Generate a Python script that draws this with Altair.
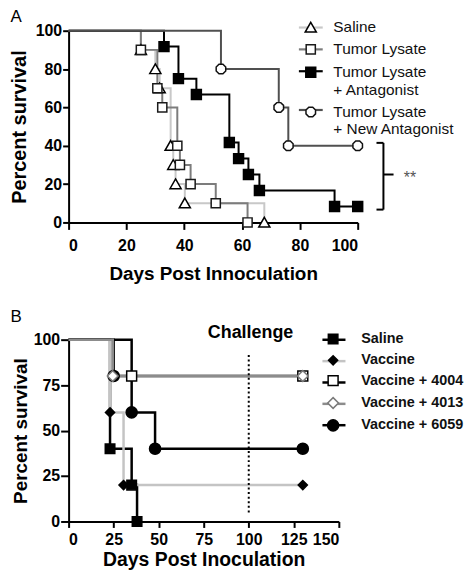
import math
import altair as alt
import pandas as pd

FONT = "Liberation Sans"

# ---------------- Panel A data ----------------
A_SERIES = ["Saline", "Tumor Lysate", "Tumor Lysate + Antagonist", "Tumor Lysate + New Antagonist"]
a_saline_days = [0, 25, 30, 31.5, 35.3, 36.2, 37, 40.2, 67.7]
a_saline_surv = [100, 90, 80, 70, 40, 30, 20, 10, 0]
a_lysate_days = [0, 25, 30.7, 32.4, 37.6, 38.5, 42.2, 50.9, 61.9]
a_lysate_surv = [100, 90, 70, 60, 40, 30, 20, 10, 0]
a_antag_days = [0, 33, 38, 44.2, 55.6, 58.8, 62.2, 66, 92, 100]
a_antag_surv = [100, 91.7, 75, 66.7, 41.7, 33.3, 25, 16.7, 8.3, 8.3]
a_new_days = [0, 52.7, 72.7, 76, 100]
a_new_surv = [100, 80, 60, 40, 40]
A_X_TICKS = [0, 20, 40, 60, 80, 100]
A_Y_TICKS = [0, 20, 40, 60, 80, 100]

# significance bracket (data units)
A_BR_X1 = [106.5, 106.5, 108.9, 108.9]
A_BR_X2 = [108.9, 108.9, 108.9, 112.4]
A_BR_Y1 = [41.5, 6.7, 41.5, 25]
A_BR_Y2 = [41.5, 6.7, 6.7, 25]
A_STAR_X = [118.1]
A_STAR_Y = [25]
A_STAR_TEXT = ["**"]

# ---------------- Panel B data ----------------
B_SERIES = ["Saline", "Vaccine", "Vaccine + 4004", "Vaccine + 4013", "Vaccine + 6059"]
b_saline_days = [0, 23, 35, 38]
b_saline_surv = [100, 40, 20, 0]
b_vacc_days = [0, 23, 30.5, 130]
b_vacc_surv = [100, 60, 20, 20]
b_6059_days = [0, 25, 35, 48, 130]
b_6059_surv = [100, 80, 60, 40, 40]
b_4004_days = [0, 35, 130]
b_4004_surv = [100, 80, 80]
b_4013_days = [0, 24.5, 130]
b_4013_surv = [100, 80, 80]
B_X_TICKS = [0, 25, 50, 75, 100, 125, 150]
B_Y_TICKS = [0, 25, 50, 75, 100]

B_CHALLENGE_X = [101]
B_CHALLENGE_Y = [100]
B_CHALLENGE_TEXT = ["Challenge"]
B_DOT_X = [100]
B_DOT_Y1 = [5]
B_DOT_Y2 = [93]


# ---------------- styles ----------------
def poly(r, n, rot=0.0):
    pts = []
    for k in range(n):
        a = rot + 2 * math.pi * k / n
        pts.append(f"{r * math.cos(a):.3f},{r * math.sin(a):.3f}")
    return "M" + "L".join(pts) + "Z"


A_LINE_COLORS = ["#c8c8c8", "#7c7c7c", "#000000", "#505050"]
A_MARK_FILLS = ["#ffffff", "#ffffff", "#000000", "#ffffff"]
A_MARK_STROKES = ["#000000", "#1a1a1a", "#000000", "#111111"]
A_SHAPES = [
    "M0,-1.3L1.4,1.15L-1.4,1.15Z",
    "M-1.15,-1.15H1.15V1.15H-1.15Z",
    "M-1.25,-1.25H1.25V1.25H-1.25Z",
    poly(1.3, 8, math.pi / 8),
]
B_LINE_COLORS = ["#000000", "#c4c4c4", "#000000", "#8c8c8c", "#000000"]
B_MARK_FILLS = ["#000000", "#000000", "#ffffff", "#ffffff", "#000000"]
B_MARK_STROKES = ["#000000", "#000000", "#000000", "#7a7a7a", "#000000"]
B_SHAPES = [
    "M-1.2,-1.2H1.2V1.2H-1.2Z",
    "M0,-1.15L1.15,0L0,1.15L-1.15,0Z",
    "M-1.25,-1.25H1.25V1.25H-1.25Z",
    "M0,-1.35L1.35,0L0,1.35L-1.35,0Z",
    poly(1.4, 16),
]


def km_frame(names, days_list, surv_list):
    rows = []
    for name, days, surv in zip(names, days_list, surv_list):
        for i, (d, s) in enumerate(zip(days, surv)):
            rows.append({"series": name, "series_m": name, "t": d, "s": s, "start": i == 0})
    return pd.DataFrame(rows)


def axis(values, title, title_size, title_pad, label_pad, tick):
    return alt.Axis(
        values=values, title=title, format="d", grid=False,
        domainColor="black", domainWidth=2, tickColor="black", tickWidth=2, tickSize=tick,
        labelFont=FONT, labelFontSize=16, labelFontWeight="bold", labelColor="black",
        labelPadding=label_pad, titleFont=FONT, titleFontSize=title_size,
        titleFontWeight="bold", titleColor="black", titlePadding=title_pad,
    )


def legend(x, y, size, weight, rowpad, loff, expr, stroke_w, z, symbol=None):
    kw = dict(
        title=None, orient="none", legendX=x, legendY=y, symbolSize=64,
        symbolStrokeWidth=stroke_w, labelFont=FONT, labelFontSize=size,
        labelFontWeight=weight, labelColor="#111111",
        rowPadding=rowpad, labelOffset=loff, padding=0, labelLimit=400, zindex=z,
    )
    if expr:
        kw["labelExpr"] = expr
    if symbol:
        kw["symbolType"] = symbol
    return alt.Legend(**kw)


# ---------------- Panel A chart ----------------
a_df = km_frame(A_SERIES,
                [a_saline_days, a_lysate_days, a_antag_days, a_new_days],
                [a_saline_surv, a_lysate_surv, a_antag_surv, a_new_surv])
a_pts = a_df[~a_df["start"]]

ax = alt.X("t:Q", scale=alt.Scale(domain=[0, 100], nice=False, zero=False),
           axis=axis(A_X_TICKS, "Days Post Innoculation", 19, 11, 8, 7))
ay = alt.Y("s:Q", scale=alt.Scale(domain=[0, 100], nice=False, zero=False),
           axis=axis(A_Y_TICKS, "Percent survival", 20, 5.5, 1, 6))

a_expr = "split(replace(datum.label, ' + ', '|+ '), '|')"
a_expr_blank = "split(replace(replace(datum.label, ' + ', '|+ '), regexp('[^|]+', 'g'), ' '), '|')"
A_LEG_X, A_LEG_Y = 236, -11

a_lines = alt.Chart(a_df).mark_line(interpolate="step-after", strokeWidth=2).encode(
    x=ax, y=ay,
    color=alt.Color("series:N", scale=alt.Scale(domain=A_SERIES, range=A_LINE_COLORS),
                    legend=legend(A_LEG_X, A_LEG_Y, 15.6, "normal", 5, 15, a_expr_blank, 2.2, 0,
                                  "M-3,0H3")),
)
a_leg = legend(A_LEG_X, A_LEG_Y, 15.5, "normal", 5, 15, a_expr, 1.5, 1)
a_points = alt.Chart(a_pts).mark_point(opacity=1, strokeWidth=1.5, size=64).encode(
    x=ax, y=ay,
    shape=alt.Shape("series_m:N", scale=alt.Scale(domain=A_SERIES, range=A_SHAPES), legend=a_leg),
    fill=alt.Fill("series_m:N", scale=alt.Scale(domain=A_SERIES, range=A_MARK_FILLS), legend=a_leg),
    stroke=alt.Stroke("series_m:N", scale=alt.Scale(domain=A_SERIES, range=A_MARK_STROKES), legend=a_leg),
)
br_df = pd.DataFrame({"t": A_BR_X1, "t2": A_BR_X2, "s": A_BR_Y1, "s2": A_BR_Y2})
a_bracket = alt.Chart(br_df).mark_rule(color="black", strokeWidth=2).encode(
    x=ax, x2="t2:Q", y=ay, y2="s2:Q")
star_df = pd.DataFrame({"t": A_STAR_X, "s": A_STAR_Y, "label": A_STAR_TEXT})
a_star = alt.Chart(star_df).mark_text(font=FONT, fontSize=16, color="#555555",
                                       align="center", baseline="middle", dy=4).encode(
    x=ax, y=ay, text="label:N")

chart_a = alt.layer(a_lines, a_points, a_bracket, a_star).properties(
    width=291, height=193,
    title=alt.TitleParams("A", anchor="start", frame="group", dx=-58.5, dy=6, offset=0,
                          font=FONT, fontSize=17, fontWeight="normal", color="black"),
).resolve_legend(color="independent")

# ---------------- Panel B chart ----------------
B_ORDER = ["Saline", "Vaccine", "Vaccine + 6059", "Vaccine + 4004", "Vaccine + 4013"]
b_map = {
    "Saline": (b_saline_days, b_saline_surv),
    "Vaccine": (b_vacc_days, b_vacc_surv),
    "Vaccine + 6059": (b_6059_days, b_6059_surv),
    "Vaccine + 4004": (b_4004_days, b_4004_surv),
    "Vaccine + 4013": (b_4013_days, b_4013_surv),
}
b_df = km_frame(B_ORDER, [b_map[k][0] for k in B_ORDER], [b_map[k][1] for k in B_ORDER])
b_pts = b_df[~b_df["start"]]

bx = alt.X("t:Q", scale=alt.Scale(domain=[0, 150], nice=False, zero=False),
           axis=axis(B_X_TICKS, "Days Post Inoculation", 19.5, 3, 4, 6))
by = alt.Y("s:Q", scale=alt.Scale(domain=[0, 100], nice=False, zero=False),
           axis=axis(B_Y_TICKS, "Percent survival", 19, 3, 1, 8))

B_LEG_X, B_LEG_Y = 259, -8
b_lines = alt.Chart(b_df).mark_line(interpolate="step-after", strokeWidth=2.5).encode(
    x=bx, y=by,
    color=alt.Color("series:N", scale=alt.Scale(domain=B_SERIES, range=B_LINE_COLORS),
                    legend=legend(B_LEG_X, B_LEG_Y, 16.2, "bold", 4.5, 21, "' '", 2.5, 0,
                                  "M-2.9,0H2.9")),
)
b_leg = legend(B_LEG_X, B_LEG_Y, 14.5, "bold", 4.5, 21, None, 1.5, 1)
b_points = alt.Chart(b_pts).mark_point(opacity=1, strokeWidth=1.5, size=64).encode(
    x=bx, y=by,
    shape=alt.Shape("series_m:N", scale=alt.Scale(domain=B_SERIES, range=B_SHAPES), legend=b_leg),
    fill=alt.Fill("series_m:N", scale=alt.Scale(domain=B_SERIES, range=B_MARK_FILLS), legend=b_leg),
    stroke=alt.Stroke("series_m:N", scale=alt.Scale(domain=B_SERIES, range=B_MARK_STROKES), legend=b_leg),
)
dot_df = pd.DataFrame({"t": B_DOT_X, "s": B_DOT_Y1, "s2": B_DOT_Y2})
b_dot = alt.Chart(dot_df).mark_rule(color="black", strokeWidth=2, strokeDash=[2, 2.6]).encode(
    x=bx, y=by, y2="s2:Q")
ch_df = pd.DataFrame({"t": B_CHALLENGE_X, "s": B_CHALLENGE_Y, "label": B_CHALLENGE_TEXT})
b_text = alt.Chart(ch_df).mark_text(font=FONT, fontSize=18, fontWeight="bold", color="black",
                                     align="center", baseline="alphabetic", dy=-2).encode(
    x=bx, y=by, text="label:N")

chart_b = alt.layer(b_lines, b_dot, b_points, b_text).properties(
    width=272, height=183,
    title=alt.TitleParams("B", anchor="start", frame="group", dx=-58.5, dy=2, offset=0,
                          font=FONT, fontSize=17, fontWeight="normal", color="black"),
).resolve_legend(color="independent")

chart = alt.vconcat(chart_a, chart_b, spacing=25).resolve_scale(
    x="independent", y="independent", color="independent", shape="independent",
    fill="independent", stroke="independent",
).resolve_legend(color="independent", shape="independent", fill="independent",
                 stroke="independent").properties(
    padding={"left": 1, "top": -2, "right": 0, "bottom": 0},
).configure_view(stroke=None)

chart.save("out.html", embed_options={"renderer": "svg", "actions": False})
